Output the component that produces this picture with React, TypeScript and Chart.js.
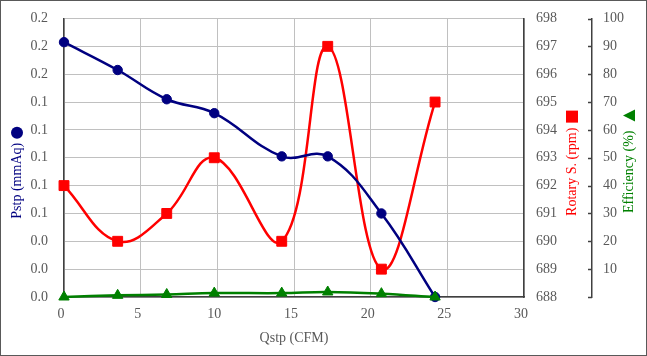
import React, { useEffect, useRef } from 'react';
import { Chart, registerables } from 'chart.js';

Chart.register(...registerables);

// ---- data ----
const flowCFM = [0, 3.5, 6.7, 9.8, 14.2, 17.2, 20.7, 24.2];
const pstpMmAq = [0.183, 0.163, 0.142, 0.132, 0.101, 0.101, 0.06, 0.0];
const rotaryRpm = [692, 690, 691, 693, 690, 697, 689, 695];
const efficiencyPct = [0, 0.6, 0.9, 1.4, 1.4, 1.8, 1.2, 0];

const xTitle = 'Qstp (CFM)';
const pstpTitle = 'Pstp (mmAq)';
const rotaryTitle = 'Rotary S. (rpm)';
const effTitle = 'Efficiency (%)';

const FONT = "'Liberation Serif', 'Times New Roman', serif";
const NAVY = '#000080';
const RED = '#ff0000';
const GREEN = '#008000';
const TEXT = '#595959';
const AXIS = '#404040';
const GRID = '#c0c0c0';

const toPts = (ys: number[]) => flowCFM.map((x, i) => ({ x, y: ys[i] }));

function vText(ctx: CanvasRenderingContext2D, text: string, x: number, y: number, color: string) {
  ctx.save();
  ctx.translate(x, y);
  ctx.rotate(-Math.PI / 2);
  ctx.fillStyle = color;
  ctx.textAlign = 'center';
  ctx.textBaseline = 'middle';
  ctx.fillText(text, 0, 0);
  ctx.restore();
}

const decor = {
  id: 'decor',
  afterDraw(chart: any) {
    const ctx: CanvasRenderingContext2D = chart.ctx;
    const { yL, yR, yE, x } = chart.scales;
    const area = chart.chartArea;
    ctx.save();
    // efficiency axis inward tick marks
    ctx.strokeStyle = AXIS;
    ctx.lineWidth = 1.5;
    yE.ticks.forEach((t: any) => {
      const y = Math.round(yE.getPixelForValue(t.value)) + 0.5;
      ctx.beginPath();
      ctx.moveTo(yE.left - 4, y);
      ctx.lineTo(yE.left, y);
      ctx.stroke();
    });

    ctx.font = `14px ${FONT}`;
    const midY = (area.top + area.bottom) / 2;

    // left title + circle
    const lx = yL.left + 17;
    const lc = midY + 23;
    const lw = ctx.measureText(pstpTitle).width;
    vText(ctx, pstpTitle, lx, lc, NAVY);
    ctx.fillStyle = NAVY;
    ctx.beginPath();
    ctx.arc(lx, lc - lw / 2 - 10, 6, 0, Math.PI * 2);
    ctx.fill();

    // rotary title + square
    const rx = yR.left + 48;
    const rc = midY + 14;
    const rw = ctx.measureText(rotaryTitle).width;
    vText(ctx, rotaryTitle, rx, rc, RED);
    ctx.fillStyle = RED;
    const sy = rc - rw / 2 - 11;
    ctx.fillRect(rx - 6, sy - 6, 12, 12);

    // efficiency title + triangle
    const ex = yE.left + 37;
    const ec = midY + 14;
    const ew = ctx.measureText(effTitle).width;
    vText(ctx, effTitle, ex, ec, GREEN);
    ctx.fillStyle = GREEN;
    const ty = ec - ew / 2 - 15;
    ctx.beginPath();
    ctx.moveTo(ex - 6, ty);
    ctx.lineTo(ex + 6, ty - 6);
    ctx.lineTo(ex + 6, ty + 6);
    ctx.closePath();
    ctx.fill();

    // x title
    ctx.fillStyle = TEXT;
    ctx.textAlign = 'center';
    ctx.textBaseline = 'middle';
    ctx.fillText(xTitle, (x.left + x.right) / 2, area.bottom + 41);

    // outer frame
    ctx.strokeStyle = '#595959';
    ctx.lineWidth = 1;
    ctx.strokeRect(0.5, 0.5, chart.width - 1, chart.height - 1);
    ctx.restore();
  },
};

const fixV = (w: number) => (s: any) => {
  s.width = w;
  s.paddingTop = 0;
  s.paddingBottom = 0;
};

export default function App() {
  const ref = useRef<HTMLCanvasElement>(null);
  useEffect(() => {
    document.body.style.margin = '0';
    const canvas = ref.current!;
    const tickFont = { family: FONT, size: 14 };
    const chart = new Chart(canvas, {
      type: 'line',
      data: {
        datasets: [
          {
            label: effTitle,
            data: toPts(efficiencyPct),
            yAxisID: 'yE',
            borderColor: GREEN,
            backgroundColor: GREEN,
            borderWidth: 2.5,
            pointStyle: 'triangle',
            pointRadius: 6,
            pointBorderWidth: 1,
            tension: 0.4,
            clip: false,
            order: 0,
          },
          {
            label: pstpTitle,
            data: toPts(pstpMmAq),
            yAxisID: 'yL',
            borderColor: NAVY,
            backgroundColor: NAVY,
            borderWidth: 2.5,
            pointStyle: 'circle',
            pointRadius: 4.7,
            pointBorderWidth: 1,
            tension: 0.4,
            clip: false,
            order: 1,
          },
          {
            label: rotaryTitle,
            data: toPts(rotaryRpm),
            yAxisID: 'yR',
            borderColor: RED,
            backgroundColor: RED,
            borderWidth: 2.5,
            pointStyle: 'rect',
            pointRadius: 7,
            pointBorderWidth: 1,
            tension: 0.4,
            clip: false,
            order: 2,
          },
        ],
      },
      options: {
        responsive: false,
        animation: false,
        events: [],
        layout: { padding: { top: 18.5, left: 0, right: 0, bottom: 0 } },
        plugins: { legend: { display: false }, tooltip: { enabled: false }, title: { display: false } },
        scales: {
          x: {
            type: 'linear',
            position: 'bottom',
            min: 0,
            max: 30,
            ticks: { stepSize: 5, font: tickFont, color: TEXT, padding: 9, labelOffset: -3, maxRotation: 0 },
            grid: { color: GRID, lineWidth: 1, drawTicks: false },
            border: { color: AXIS, width: 1.5 },
            afterFit: (s: any) => {
              s.height = 59;
              s.paddingLeft = 0;
              s.paddingRight = 0;
            },
          },
          yL: {
            type: 'linear',
            position: 'left',
            min: 0,
            max: 0.2,
            ticks: {
              stepSize: 0.02,
              font: tickFont,
              color: TEXT,
              padding: 16,
              callback: (v: any) => Number(v).toFixed(1),
            },
            grid: { color: GRID, lineWidth: 1, drawTicks: false },
            border: { color: AXIS, width: 1.5 },
            afterFit: fixV(64),
          },
          yR: {
            type: 'linear',
            position: 'right',
            min: 688,
            max: 698,
            ticks: { stepSize: 1, font: tickFont, color: TEXT, padding: 12 },
            grid: { drawOnChartArea: false, drawTicks: false },
            border: { color: AXIS, width: 1.5 },
            afterFit: fixV(68),
          },
          yE: {
            type: 'linear',
            position: 'right',
            min: 0,
            max: 100,
            ticks: {
              stepSize: 10,
              font: tickFont,
              color: TEXT,
              padding: 11,
              callback: (v: any) => (Number(v) === 0 ? '' : String(v)),
            },
            grid: { drawOnChartArea: false, drawTicks: false },
            border: { color: AXIS, width: 1.5 },
            afterFit: fixV(55),
          },
        },
      } as any,
      plugins: [decor],
    });
    return () => chart.destroy();
  }, []);
  return (
    <div style={{ width: 647, height: 356 }}>
      <canvas ref={ref} width={647} height={356} style={{ display: 'block' }} />
    </div>
  );
}
